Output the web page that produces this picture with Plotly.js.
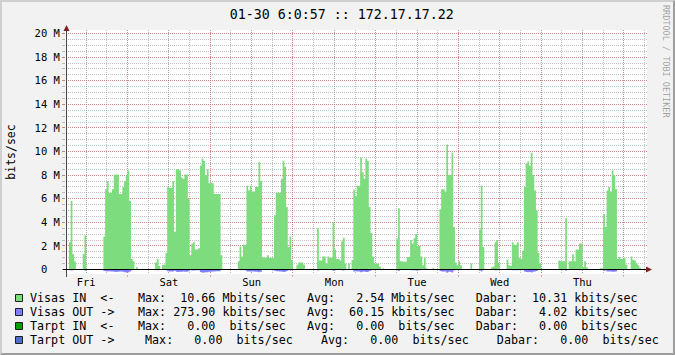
<!DOCTYPE html>
<html><head><meta charset="utf-8">
<script src="https://cdn.plot.ly/plotly-3.0.1.min.js"></script>
<style>
html,body{margin:0;padding:0;background:#F2F2F2;}
#wrap{position:relative;width:675px;height:355px;overflow:hidden;}
#chart{width:675px;height:355px;}
#frame{position:absolute;left:0;top:0;width:675px;height:355px;box-sizing:border-box;border:2px solid;border-color:#CFCFCF #9E9E9E #9E9E9E #CFCFCF;pointer-events:none;}
</style></head><body>
<div id="wrap"><div id="chart"></div><div id="frame"></div></div>
<script>
// ---- data: 30-minute samples starting Fri 06:00 (Mbit/s for IN, kbit/s for OUT) ----
const stepHours = 0.5;
const inFri  = [0,0,2.3,5.8,1.3,0.7,0,0,0,0,1.3,2.9, 0,0,0,0,0,0,0,0,0,0, 2.8,6.8,7.5,6.5,6.5,6.8,8.05,8.05,8.05,6.4,6.4,7.0,7.5,8.0];
const inSat  = [8.4,5.8,0.9,0.7,0,0.2, 0,0,0,0,0,0,0,0,0,0, 0.6,0.9,0.3,0,0.4,0.4,1.4,7.0,6.9,6.9,7.5,3.2,8.5,8.5,8.4,7.8,7.7,8.05,8.05,6.0,1.2,2.2,2.3,1.7,1.7,1.8,8.8,9.4,9.2,8.0,8.5,7.3];
const inSun  = [7.35,7.3,6.4,6.4,6.4,6.4,1.2, 0,0,0,0,0,0,0,0,0, 0.7,1.95,1.1,2.1,2.1,7.1,6.7,7.1,6.6,6.6,7.0,7.0,9.1,7.5,1.05,1.0,1.0,1.2,1.0,1.0,1.0,4.6,6.5,6.5,6.5,7.7,9.2,8.7,5.3,1.9,2.8,0.8];
const inMon  = [0,0,0.4,0.6,0.6,0.6,0.4, 0,0,0,0,0,0,0, 3.5,0.76,0.76,1.1,1.1,0.5,1.1,1.0,1.0,4.0,1.7,0.9,0.9,0.76,2.4,2.7,0.5,0,0.5,0,0.8,6.75,6.2,7.1,7.1,9.5,8.25,7.7,9.4,9.2,5.3,3.1,1.1,0.5];
const inTue  = [0.5,0.5,0.25,0,0.1, 0,0,0,0,0,0,0, 2.6,5.2,0.7,0.7,0.65,0.65,1.05,1.05,2.5,2.2,2.65,3.0,2.0,2.0,1.1,0.35,1.0,0.1,0,0,0,0.1,0,0,0,5.1,6.8,6.8,6.6,10.6,8.0,8.0,9.9,3.6,0.6,0.35];
const inWed  = [0.7,0.35, 0,0,0,0,0, 0.5, 0,0,0,0, 3.4,7.1,1.9, 0,0,0,0, 0.2,0.25,2.3,2.5,0.6, 0,0,0,0, 0.85,0.35,0.3,2.3,2.1,2.1,2.3,1.0,0.9,1.6,7.0,8.95,9.15,8.8,9.9,8.0,6.7,5.0,1.4,0.5];
const inThu  = [0,0,0,0,0,0,0,0,0,0, 0.76,0.7,0.7,0.7,4.35,0.05,0.7,0.7,1.3,0.7,1.7,1.7,2.2,2.2,0.2,0.7,0.2, 0,0,0,0,0,0,0, 0.1,0.1,4.7,3.6,6.7,7.0,6.6,8.4,8.0,6.8,0.9,1.05,0.9,0.9];
const inFri2 = [0.95,0.4,0,0,1.1,0.8,0.76,0.5,0.35,0.15,0,0];

const outFri  = [0,0,60,90,60,30,0,0,0,0,50,80, 0,0,0,0,0,0,0,0,0,0, 120,150,160,150,170,180,200,210,190,170,180,200,230,250];
const outSat  = [240,180,60,30,0,10, 0,0,0,0,0,0,0,0,0,0, 40,60,20,0,20,20,60,150,160,170,180,100,200,210,200,190,180,190,200,150,50,80,90,70,60,70,220,270,260,240,230,200];
const outSun  = [190,180,160,150,150,140,50, 0,0,0,0,0,0,0,0,0, 30,60,40,70,70,170,160,180,170,170,190,200,240,200,40,40,40,50,40,40,40,110,150,150,160,180,220,200,130,60,80,30];
const outMon  = [0,0,20,30,30,30,20, 0,0,0,0,0,0,0, 90,30,30,40,40,20,40,40,40,100,60,30,30,30,70,80,20,0,20,0,30,160,150,170,170,230,200,180,220,210,130,80,40,20];
const outTue  = [20,20,10,0,5, 0,0,0,0,0,0,0, 70,130,30,30,30,30,40,40,70,60,70,80,60,60,40,15,40,5,0,0,0,5,0,0,0,130,170,170,160,270,200,200,250,90,25,15];
const outWed  = [25,15, 0,0,0,0,0, 20, 0,0,0,0, 80,170,50, 0,0,0,0, 10,10,60,70,20, 0,0,0,0, 30,15,10,60,55,55,60,35,30,45,170,220,230,210,250,200,160,120,40,20];
const outThu  = [0,0,0,0,0,0,0,0,0,0, 30,25,25,25,100,5,25,25,40,25,45,45,60,60,10,25,10, 0,0,0,0,0,0,0, 5,5,110,90,160,170,160,200,190,160,35,40,35,35];
const outFri2 = [35,15,0,0,40,30,30,20,15,5,0,0];

const dayLabels     = ['Fri','Sat','Sun','Mon','Tue','Wed','Thu'];
const noonHours     = [6,30,54,78,102,126,150];
const midnightHours = [18,42,66,90,114,138,162];
const yTickVals     = [0,2,4,6,8,10,12,14,16,18,20];
const yTickText     = ['0\u00a0\u00a0','2 M','4 M','6 M','8 M','10 M','12 M','14 M','16 M','18 M','20 M'];

const titleText  = '01-30 6:0:57 :: 172.17.17.22';
const yTitle     = 'bits/sec';
const watermark  = 'RRDTOOL / TOBI OETIKER';
const legendNames  = ['Visas IN  <-','Visas OUT ->','Tarpt IN  <-','Tarpt OUT ->'];
const legendColors = ['#7ddc7d','#8080ff','#00a000','#5070c8'];
const maxVals  = ['10.66','273.90','0.00','0.00'];
const maxUnits = ['M','k',' ',' '];
const avgVals  = ['2.54','60.15','0.00','0.00'];
const avgUnits = ['M','k',' ',' '];
const curVals  = ['10.31','4.02','0.00','0.00'];
const curUnits = ['k','k',' ',' '];
const rowIndent = [0,0,0,1];

// ---- build series ----
const inMbps  = [].concat(inFri,inSat,inSun,inMon,inTue,inWed,inThu,inFri2);
const outKbps = [].concat(outFri,outSat,outSun,outMon,outTue,outWed,outThu,outFri2);
const hours = inMbps.map((_, i) => i * stepHours);
hours.push(inMbps.length * stepHours);
const inY  = inMbps.concat([inMbps[inMbps.length-1]]);
const outY = outKbps.map(v => -v / 1000).concat([-outKbps[outKbps.length-1]/1000]);
const zeros = inY.map(() => 0);

// ---- geometry ----
const W = 675, H = 355;
const L = 66, R = 647, T = 30, B = 274;
const PW = R - L, PH = B - T;
const pxPerHour = 579 / 168;
const x0px = 65.5;
const xRange = [(L - x0px) / pxPerHour, (R - x0px) / pxPerHour];
const pxPerM = 236 / 20;
const zeroPx = 269.5;
const yRange = [-(B - zeroPx) / pxPerM, (zeroPx - T) / pxPerM];
const px = p => (p - L) / PW;
const py = p => (B - p) / PH;

const FONT = 'DejaVu Sans Mono';
const GRID = 'rgba(143,143,143,0.55)';
const MGRID = 'rgba(222,79,79,0.5)';
const DASH = '1px,1px';
const nb = s => s.replace(/ /g, '\u00a0');
const pad6 = s => ('      ' + s).slice(-6);

const traces = [
  {x: hours, y: inY, type: 'scatter', mode: 'lines', line: {shape: 'hv', width: 0, color: legendColors[0]},
   fill: 'tozeroy', fillcolor: legendColors[0], hoverinfo: 'skip', name: legendNames[0]},
  {x: hours, y: outY, type: 'scatter', mode: 'lines', line: {shape: 'hv', width: 0, color: legendColors[1]},
   fill: 'tozeroy', fillcolor: legendColors[1], hoverinfo: 'skip', name: legendNames[1]},
  {x: hours, y: zeros, xaxis: 'x2', type: 'scatter', mode: 'lines', line: {shape: 'hv', width: 0, color: legendColors[2]},
   hoverinfo: 'skip', name: legendNames[2]},
  {x: hours, y: zeros, xaxis: 'x2', type: 'scatter', mode: 'lines', line: {shape: 'hv', width: 0, color: legendColors[3]},
   hoverinfo: 'skip', name: legendNames[3]}
];

const shapes = [];
const annotations = [];
const rowY = [298, 312, 326, 340];
legendNames.forEach((name, i) => {
  shapes.push({type: 'rect', xref: 'paper', yref: 'paper',
    x0: px(15.5), x1: px(22.5), y0: py(rowY[i] - 3.5), y1: py(rowY[i] + 3.5),
    fillcolor: legendColors[i], line: {color: '#1f1f1f', width: 1}});
  annotations.push({xref: 'paper', yref: 'paper', x: px(30), y: py(rowY[i]), xanchor: 'left', yanchor: 'middle',
    text: nb(name), showarrow: false, borderpad: 0, borderwidth: 0,
    font: {family: FONT, size: 11.7, color: '#000'}});
  const ind = ' '.repeat(rowIndent[i]);
  const stats = ind + 'Max: ' + pad6(maxVals[i]) + ' ' + maxUnits[i] + 'bits/sec   ' +
                ind + 'Avg: ' + pad6(avgVals[i]) + ' ' + avgUnits[i] + 'bits/sec   ' +
                ind + 'Dabar: ' + pad6(curVals[i]) + ' ' + curUnits[i] + 'bits/sec';
  annotations.push({xref: 'paper', yref: 'paper', x: px(138), y: py(rowY[i]), xanchor: 'left', yanchor: 'middle',
    text: nb(stats), showarrow: false, borderpad: 0, borderwidth: 0,
    font: {family: FONT, size: 11.7, color: '#000'}});
});
annotations.push({xref: 'paper', yref: 'paper', x: px(666), y: py(61), xanchor: 'center', yanchor: 'middle',
  text: nb(watermark), textangle: 90, showarrow: false, borderpad: 0,
  font: {family: FONT, size: 8.5, color: 'rgba(0,0,0,0.36)'}});

// axis lines and arrows
shapes.push({type: 'line', xref: 'paper', yref: 'paper', x0: px(66.5), x1: px(66.5), y0: py(277), y1: py(30),
  line: {color: '#4a4a4a', width: 1}});
shapes.push({type: 'line', xref: 'paper', yref: 'paper', x0: px(63), x1: px(647), y0: py(269.5), y1: py(269.5),
  line: {color: '#000000', width: 1}});
shapes.push({type: 'path', xref: 'paper', yref: 'paper',
  path: `M ${px(63.5)} ${py(31)} L ${px(66.5)} ${py(25)} L ${px(69.5)} ${py(31)} Z`,
  fillcolor: '#801F1F', line: {width: 0}});
shapes.push({type: 'path', xref: 'paper', yref: 'paper',
  path: `M ${px(646)} ${py(266.5)} L ${px(652)} ${py(269.5)} L ${px(646)} ${py(272.5)} Z`,
  fillcolor: '#801F1F', line: {width: 0}});

const layout = {
  width: W, height: H,
  paper_bgcolor: '#F2F2F2', plot_bgcolor: '#FFFFFF',
  margin: {l: L, r: W - R, t: T, b: H - B, pad: 0},
  showlegend: false,
  font: {family: FONT, size: 10.5, color: '#000'},
  title: {text: titleText, font: {family: FONT, size: 13.3, color: '#000'},
          x: 341.8 / W, xref: 'container', xanchor: 'center',
          y: 1 - 14 / H, yref: 'container', yanchor: 'middle'},
  xaxis: {range: xRange, tickmode: 'array', tickvals: noonHours, ticktext: dayLabels,
          ticks: '', showgrid: true, gridcolor: GRID, griddash: DASH, gridwidth: 1,
          zeroline: false, showline: false, tickfont: {family: FONT, size: 10.5, color: '#000'},
          minor: {tick0: 0, dtick: 6, showgrid: true, gridcolor: GRID, griddash: DASH, ticks: ''},
          fixedrange: true},
  xaxis2: {overlaying: 'x', anchor: 'y', side: 'bottom', range: xRange, tickmode: 'array', tickvals: midnightHours,
           showticklabels: false, ticks: 'outside', ticklen: 2, tickcolor: MGRID, tickwidth: 1,
           showgrid: true, gridcolor: MGRID, griddash: DASH, zeroline: false, showline: false, fixedrange: true},
  yaxis: {range: yRange, tickmode: 'array', tickvals: yTickVals, ticktext: yTickText,
          ticks: 'outside', ticklen: 3, tickcolor: MGRID, tickwidth: 1,
          showgrid: true, gridcolor: MGRID, griddash: DASH, zeroline: false, showline: false,
          tickfont: {family: FONT, size: 10.5, color: '#000'},
          minor: {tick0: 0, dtick: 0.5, showgrid: true, gridcolor: GRID, griddash: DASH,
                  ticks: 'outside', ticklen: 3, tickcolor: GRID},
          title: {text: yTitle, font: {family: FONT, size: 11.5, color: '#000'}, standoff: 16},
          automargin: false, fixedrange: true},
  shapes: shapes,
  annotations: annotations
};

Plotly.newPlot('chart', traces, layout, {staticPlot: true, displayModeBar: false});
</script>
</body></html>
